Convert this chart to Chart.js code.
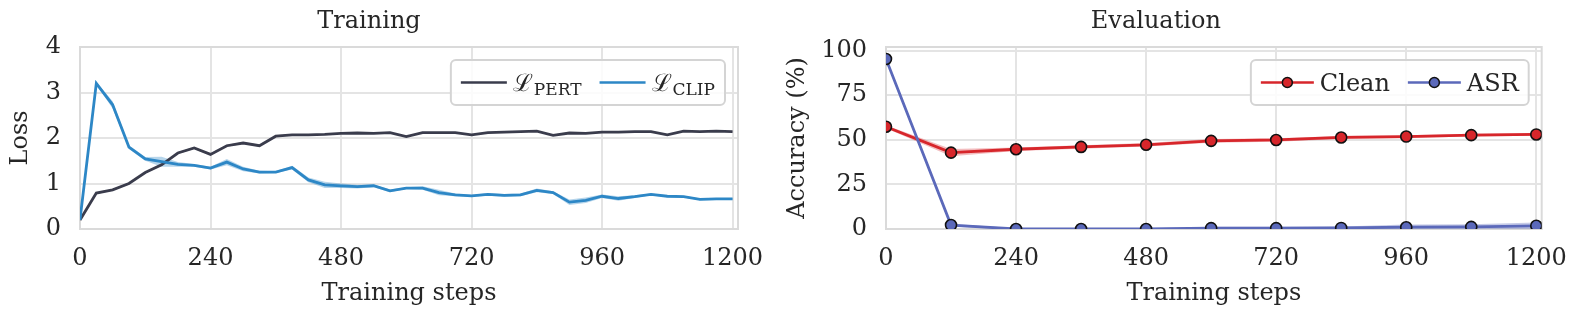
<!DOCTYPE html>
<html>
<head>
<meta charset="utf-8">
<script src="https://cdn.jsdelivr.net/npm/chart.js@4.4.1/dist/chart.umd.min.js"></script>
<style>
  body { margin: 0; background: #fff; }
  #left { position: absolute; left: 0; top: 0; }
  #right { position: absolute; left: 770px; top: 0; }
</style>
</head>
<body>
<canvas id="left" width="770" height="316"></canvas>
<canvas id="right" width="808" height="316"></canvas>
<script>
// training curves, logged every 30 steps
var trainSteps = [0, 30, 60, 90, 120, 150, 180, 210, 240, 270, 300, 330, 360, 390, 420, 450, 480, 510, 540, 570, 600,
  630, 660, 690, 720, 750, 780, 810, 840, 870, 900, 930, 960, 990, 1020, 1050, 1080, 1110, 1140, 1170, 1200];
var pertLoss = [0.2, 0.79, 0.86, 1.0, 1.24, 1.41, 1.67, 1.78, 1.64, 1.83, 1.89, 1.83, 2.04, 2.07, 2.07, 2.08, 2.10, 2.11, 2.10, 2.12, 2.03,
  2.12, 2.12, 2.12, 2.07, 2.12, 2.13, 2.14, 2.15, 2.06, 2.11, 2.10, 2.13, 2.13, 2.14, 2.14, 2.07, 2.15, 2.14, 2.15, 2.14];
var pertSpread = [0.01, 0.02, 0.02, 0.02, 0.02, 0.02, 0.02, 0.02, 0.02, 0.02, 0.02, 0.02, 0.02, 0.01, 0.01, 0.01, 0.01, 0.01, 0.01, 0.01, 0.01,
  0.01, 0.01, 0.01, 0.01, 0.01, 0.01, 0.01, 0.01, 0.01, 0.01, 0.01, 0.01, 0.01, 0.01, 0.01, 0.01, 0.01, 0.01, 0.01, 0.01];
var clipLoss = [0.2, 3.2, 2.73, 1.8, 1.54, 1.48, 1.42, 1.40, 1.34, 1.47, 1.32, 1.25, 1.25, 1.35, 1.08, 0.97, 0.95, 0.93, 0.95, 0.84, 0.90,
  0.90, 0.80, 0.75, 0.73, 0.76, 0.74, 0.75, 0.85, 0.80, 0.59, 0.63, 0.72, 0.67, 0.71, 0.76, 0.72, 0.71, 0.65, 0.66, 0.66];
var clipSpread = [0.01, 0.03, 0.08, 0.04, 0.04, 0.11, 0.05, 0.03, 0.03, 0.07, 0.05, 0.03, 0.02, 0.04, 0.05, 0.07, 0.05, 0.04, 0.03, 0.03, 0.02,
  0.04, 0.06, 0.03, 0.02, 0.03, 0.03, 0.03, 0.04, 0.03, 0.06, 0.06, 0.04, 0.05, 0.03, 0.02, 0.02, 0.02, 0.02, 0.02, 0.02];

// evaluation every 120 steps
var evalSteps = [0, 120, 240, 360, 480, 600, 720, 840, 960, 1080, 1200];
var cleanAcc = [57.3, 42.8, 44.7, 46.0, 47.2, 49.4, 49.9, 51.3, 51.8, 52.6, 53.0];
var cleanSpread = [0.8, 2.0, 1.0, 1.0, 1.0, 1.0, 1.0, 0.8, 0.8, 0.8, 0.8];
var asrAcc = [95.3, 2.2, 0.0, 0.0, 0.0, 0.5, 0.5, 0.6, 1.0, 1.2, 1.8];
var asrSpread = [0.5, 0.8, 0.4, 0.4, 0.4, 0.8, 0.8, 0.8, 1.5, 1.5, 1.8];

var stepTicks = [0, 240, 480, 720, 960, 1200];
var lossTicks = [0, 1, 2, 3, 4];
var accTicks = [0, 25, 50, 75, 100];

var FONT = "'DejaVu Serif', serif";
var TEXT = '#262626';
var GRID = '#e4e4e4';

function pts(xs, ys, d) {
  return xs.map(function(x, i) { return {x: x, y: ys[i] + (d ? d[i] : 0)}; });
}
function neg(a) { return a.map(function(v) { return -v; }); }

// upper edge + lower edge filled back to it
function band(xs, ys, spread, color, lowerIndex) {
  return [
    {data: pts(xs, ys, spread), borderWidth: 0, pointRadius: 0, fill: false},
    {data: pts(xs, ys, neg(spread)), borderWidth: 0, pointRadius: 0, backgroundColor: color, fill: lowerIndex}
  ];
}

// closes the box on top and right
var framePlugin = {
  id: 'frame',
  beforeDatasetsDraw: function(chart) {
    var a = chart.chartArea, ctx = chart.ctx;
    ctx.save();
    ctx.strokeStyle = '#dadada';
    ctx.lineWidth = 2;
    ctx.strokeRect(a.left, a.top, a.right - a.left, a.bottom - a.top);
    ctx.restore();
  }
};

// legend in the upper right of the plot, matplotlib style
var boxLegend = {
  id: 'boxLegend',
  afterDraw: function(chart, args, opts) {
    var ctx = chart.ctx, a = chart.chartArea;
    var items = opts.items;
    ctx.save();
    var widths = items.map(function(it) {
      ctx.font = '24px ' + FONT;
      var w = ctx.measureText(it.text).width;
      if (it.sub) { ctx.font = '17px ' + FONT; w += ctx.measureText(it.sub).width + 1; }
      return w;
    });
    var sample = opts.sample, pad = 10, gap = 6, between = 18;
    var total = pad * 2;
    widths.forEach(function(w, i) { total += sample + gap + w + (i ? between : 0); });
    var h = 45;
    var x0 = a.right - 13 - total, y0 = a.top + 13;
    ctx.fillStyle = 'rgba(255,255,255,0.85)';
    ctx.strokeStyle = '#d4d4d4';
    ctx.lineWidth = 2;
    ctx.beginPath();
    ctx.roundRect(x0, y0, total, h, 5);
    ctx.fill();
    ctx.stroke();
    var x = x0 + pad, cy = y0 + h / 2;
    items.forEach(function(it, i) {
      if (i) x += between;
      ctx.strokeStyle = it.color;
      ctx.lineWidth = 2.5;
      ctx.beginPath();
      ctx.moveTo(x, cy);
      ctx.lineTo(x + sample, cy);
      ctx.stroke();
      if (it.marker) {
        ctx.fillStyle = it.color;
        ctx.strokeStyle = '#111';
        ctx.lineWidth = 1.5;
        ctx.beginPath();
        ctx.arc(x + sample / 2, cy, 5, 0, Math.PI * 2);
        ctx.fill();
        ctx.stroke();
      }
      x += sample + gap;
      ctx.fillStyle = TEXT;
      ctx.textBaseline = 'alphabetic';
      ctx.font = '24px ' + FONT;
      ctx.fillText(it.text, x, cy + 8);
      x += ctx.measureText(it.text).width;
      if (it.sub) {
        ctx.font = '17px ' + FONT;
        ctx.fillText(it.sub, x + 1, cy + 12);
        x += ctx.measureText(it.sub).width + 1;
      }
    });
    ctx.restore();
  }
};

function plain(v) { return String(v); }

function baseOptions(yTitle, yTitlePad, yMin, yMax, yTicks, yWidth, rightPad, titleText, legendItems, sample) {
  return {
    responsive: false,
    animation: false,
    devicePixelRatio: 1,
    layout: {padding: {left: 0, right: rightPad, top: 0, bottom: 0}},
    plugins: {
      legend: {display: false},
      tooltip: {enabled: false},
      title: {display: true, text: titleText, color: TEXT, font: {family: FONT, size: 24, weight: 'normal'}, padding: {top: 7, bottom: 11.2}},
      boxLegend: {items: legendItems, sample: sample}
    },
    scales: {
      x: {
        type: 'linear', min: 0, max: 1210,
        afterBuildTicks: function(s) { s.ticks = stepTicks.map(function(v) { return {value: v}; }); },
        afterFit: function(s) { s.height = 87; s.paddingLeft = 0; s.paddingRight = 0; },
        grid: {color: GRID, lineWidth: 2, drawTicks: false},
        border: {display: false},
        ticks: {color: TEXT, padding: 15, maxRotation: 0, font: {family: FONT, size: 24}, callback: plain},
        title: {display: true, text: 'Training steps', color: TEXT, font: {family: FONT, size: 24}, padding: {top: 0, bottom: 8}}
      },
      y: {
        min: yMin, max: yMax,
        afterBuildTicks: function(s) { s.ticks = yTicks.map(function(v) { return {value: v}; }); },
        afterFit: function(s) { s.width = yWidth; },
        grid: {color: GRID, lineWidth: 2, drawTicks: false},
        border: {display: false},
        ticks: {color: TEXT, padding: 19, font: {family: FONT, size: 24}, callback: plain},
        title: {display: true, text: yTitle, color: TEXT, font: {family: FONT, size: 24}, padding: {top: yTitlePad, bottom: 0}}
      }
    }
  };
}

var pertColor = '#3a3c4c', clipColor = '#2d87c6';
var cleanColor = '#d7262b', asrColor = '#5b69ba';

new Chart(document.getElementById('left').getContext('2d'), {
  type: 'line',
  data: {
    datasets: [
      {label: 'CLIP', data: pts(trainSteps, clipLoss), borderColor: clipColor, borderWidth: 2.8, pointRadius: 0, tension: 0},
      {label: 'PERT', data: pts(trainSteps, pertLoss), borderColor: pertColor, borderWidth: 2.8, pointRadius: 0, tension: 0}
    ].concat(band(trainSteps, clipLoss, clipSpread, 'rgba(45,135,198,0.35)', 2))
     .concat(band(trainSteps, pertLoss, pertSpread, 'rgba(58,60,76,0.3)', 4))
  },
  options: baseOptions('Loss', 6, 0, 4, lossTicks, 80, 32, 'Training', [
    {text: '\u2112', sub: 'PERT', color: pertColor},
    {text: '\u2112', sub: 'CLIP', color: clipColor}
  ], 46),
  plugins: [framePlugin, boxLegend]
});

var markerStyle = {pointRadius: 5.5, pointBorderColor: '#111', pointBorderWidth: 1.6, borderWidth: 2.8, tension: 0, clip: 0};

new Chart(document.getElementById('right').getContext('2d'), {
  type: 'line',
  data: {
    datasets: [
      Object.assign({label: 'ASR', data: pts(evalSteps, asrAcc), borderColor: asrColor, pointBackgroundColor: asrColor}, markerStyle),
      Object.assign({label: 'Clean', data: pts(evalSteps, cleanAcc), borderColor: cleanColor, pointBackgroundColor: cleanColor}, markerStyle)
    ].concat(band(evalSteps, asrAcc, asrSpread, 'rgba(91,105,186,0.35)', 2))
     .concat(band(evalSteps, cleanAcc, cleanSpread, 'rgba(215,38,43,0.3)', 4)),
  },
  options: baseOptions('Accuracy (%)', 13, 0, 102, accTicks, 116, 36.3, 'Evaluation', [
    {text: 'Clean', color: cleanColor, marker: true},
    {text: 'ASR', color: asrColor, marker: true}
  ], 53),
  plugins: [framePlugin, boxLegend]
});
</script>
</body>
</html>
